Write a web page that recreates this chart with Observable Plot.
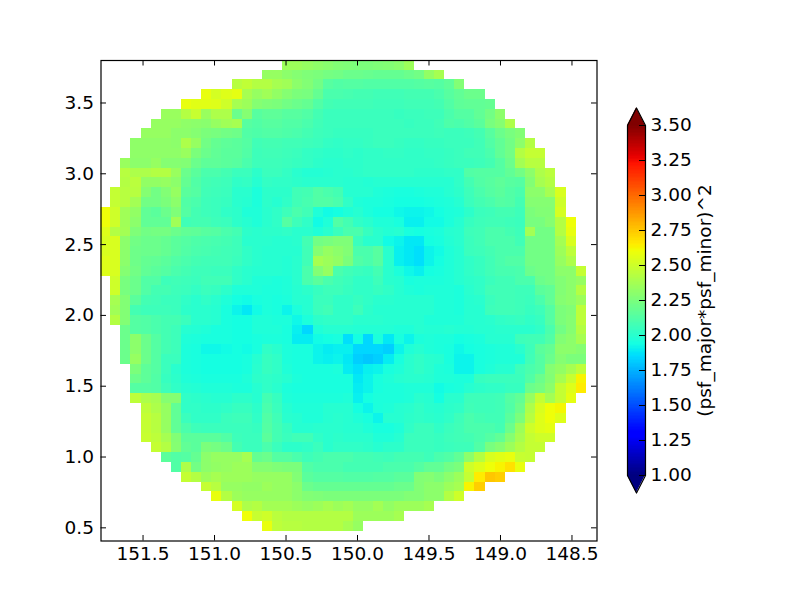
<!DOCTYPE html>
<html>
<head>
<meta charset="utf-8">
<script src="https://cdn.jsdelivr.net/npm/d3@7"></script>
<script src="https://cdn.jsdelivr.net/npm/@observablehq/plot@0.6"></script>
<style>
html,body{margin:0;padding:0;background:#fff}
#chart{position:relative;width:800px;height:600px;overflow:hidden}
#chart svg{position:absolute;top:0;background:transparent}
</style>
</head>
<body>
<div id="chart"></div>
<script>
// Axis ticks
const xTicks = [151.5, 151.0, 150.5, 150.0, 149.5, 149.0, 148.5];
const yTicks = [0.5, 1.0, 1.5, 2.0, 2.5, 3.0, 3.5];
const barTicks = [1.00, 1.25, 1.50, 1.75, 2.00, 2.25, 2.50, 2.75, 3.00, 3.25, 3.50];
const barLabel = "(psf_major*psf_minor)^2";

// Map frame and grid
const xDomain = [151.794, 148.325];
const yDomain = [0.407, 3.8];
const xOrigin = 151.797, xStep = 0.07077;
const yOrigin = 3.802, yStep = 0.06928;

// First column of each row of the 48 x 48 map (top row first)
const rowStart = [18,16,13,10,8,6,5,4,3,3,2,2,2,1,1,0,0,0,0,0,0,0,1,1,1,1,1,2,2,2,2,3,3,3,3,4,4,4,4,5,6,7,8,10,11,13,14,16];

// Values in hundredths, one list per row
const psfRows = [
[235,235,233,231,229,227,226,225,225,226,227,229,235],
[233,233,230,228,226,225,223,222,220,220,219,218,218,218,220,222,232,238],
[243,246,242,242,238,236,230,227,222,214,212,213,213,212,212,212,212,212,213,214,213,216,227],
[258,252,255,257,238,233,236,232,228,225,224,218,210,210,209,208,208,207,207,207,208,208,208,210,214,217,220,220],
[258,256,256,255,250,238,235,228,226,225,222,220,218,212,208,207,207,207,207,206,206,206,207,207,207,208,212,216,217,217,218],
[234,234,242,248,234,240,240,220,228,214,216,216,214,214,212,208,205,205,205,205,205,205,205,204,205,205,206,206,210,213,213,217,222,230],
[233,233,233,231,230,229,233,236,238,214,212,214,214,212,212,210,207,205,205,205,205,205,205,205,205,204,205,205,207,211,210,212,215,224,228,240],
[233,233,233,230,230,228,225,224,222,221,212,211,212,212,211,210,208,206,205,204,204,204,204,205,205,205,205,205,205,206,205,205,206,208,214,220,224,227],
[231,231,231,231,230,240,233,222,218,216,215,213,207,208,208,207,207,206,205,203,202,203,203,204,205,205,204,203,203,204,204,205,205,205,207,212,217,222,230,242],
[231,231,231,231,231,234,225,220,217,215,215,212,206,207,207,206,205,203,202,201,201,202,201,202,202,203,203,202,202,203,203,204,205,207,207,210,217,222,242,247,247],
[234,230,230,233,228,228,227,220,216,216,215,214,210,206,206,206,205,204,203,201,200,200,201,201,202,202,202,202,202,202,202,203,204,205,205,206,208,213,220,237,243,243],
[243,240,240,242,242,234,220,215,210,210,208,205,205,201,205,205,203,200,198,198,199,200,200,201,202,202,202,202,202,201,201,201,202,202,212,213,213,213,217,222,230,240,244],
[242,244,232,232,233,230,218,212,208,207,206,202,203,199,203,202,202,201,200,200,200,200,199,199,198,199,199,199,199,199,199,199,199,202,208,212,214,216,214,213,227,238,242],
[247,243,243,228,222,227,233,215,213,207,206,205,200,200,196,201,201,201,207,208,212,210,208,199,199,199,197,196,195,195,196,197,197,199,201,206,210,213,215,212,210,230,230,238,253],
[247,243,237,222,222,225,230,212,210,206,205,204,200,199,196,201,199,202,207,209,212,212,210,202,197,196,196,195,194,194,194,195,196,197,199,205,208,210,213,212,208,228,228,228,250],
[260,250,236,232,217,215,220,226,213,208,206,205,202,201,197,197,200,202,206,210,207,197,193,194,197,199,196,194,194,192,191,191,192,194,196,197,201,205,206,208,208,206,225,227,227,252],
[260,250,236,230,217,217,217,236,207,208,208,206,205,201,199,197,200,202,213,206,202,193,197,212,208,202,200,197,197,195,190,190,193,193,196,199,204,206,207,207,206,205,224,224,228,242,260],
[255,242,237,226,222,223,223,220,217,216,214,213,210,208,201,200,201,201,202,200,200,197,200,205,210,210,204,200,198,199,195,194,195,196,199,200,206,207,210,210,208,206,237,222,222,242,258],
[253,253,230,222,220,220,218,215,213,211,210,209,208,206,200,200,200,199,199,200,208,222,224,226,226,205,200,200,193,191,188,188,194,195,198,200,205,207,210,210,210,207,222,222,222,237,253],
[253,253,230,221,220,220,218,215,212,210,209,208,207,206,202,200,199,199,199,199,207,228,233,230,227,210,210,214,200,190,188,186,191,193,197,199,205,206,208,210,210,210,222,222,222,235,245],
[255,253,230,221,218,217,215,212,210,208,207,207,207,205,202,200,199,199,198,200,207,238,235,232,225,212,210,214,200,190,188,186,191,194,197,199,202,204,207,210,212,212,222,222,222,233,240],
[255,253,228,222,217,215,213,210,208,206,206,205,205,202,200,199,199,199,198,200,210,227,233,210,207,205,204,208,200,196,192,190,194,195,197,199,202,204,207,209,209,210,220,222,222,230,230,247],
[250,224,220,212,212,206,207,206,205,207,207,207,202,200,197,197,196,197,200,210,215,210,207,205,202,202,206,200,199,195,196,196,196,197,199,201,202,205,207,207,210,210,220,222,227,230,233],
[250,224,220,212,208,208,206,205,203,205,204,201,197,197,197,196,196,197,199,201,204,206,206,204,202,202,204,202,199,197,196,197,197,197,196,200,202,207,207,207,206,206,215,217,227,230,242],
[238,227,215,208,207,205,205,202,200,202,200,197,194,193,195,196,195,196,199,199,205,205,202,202,204,202,200,200,199,199,199,199,197,197,196,199,200,205,207,207,206,205,210,217,228,230,235],
[236,227,208,206,206,206,205,201,200,200,199,195,191,188,193,196,195,191,196,199,205,207,202,202,206,201,199,199,199,199,199,199,197,197,196,199,199,206,207,207,206,204,206,213,225,227,245],
[242,227,213,212,210,208,208,205,200,200,199,195,194,194,197,197,196,196,192,196,201,202,202,202,200,200,200,199,199,199,199,197,197,197,197,199,199,200,202,203,204,202,204,213,225,228,245],
[220,213,212,210,208,206,199,198,197,195,195,194,194,197,197,197,195,190,184,197,199,199,199,198,198,198,198,197,197,199,198,198,199,198,198,199,199,200,200,200,200,202,210,222,228,242],
[220,230,220,213,208,206,197,196,195,195,195,194,194,195,196,196,195,189,189,193,194,195,186,194,184,196,188,195,191,196,197,196,196,194,195,196,199,199,199,206,207,207,212,227,230,238],
[220,230,220,213,208,206,196,195,192,192,193,194,193,195,202,200,196,195,195,191,189,190,190,184,184,184,182,191,197,199,197,196,195,192,194,195,196,197,197,200,206,215,218,230,230,228],
[220,233,220,213,205,205,196,195,194,194,194,194,195,199,204,202,196,195,195,191,190,191,188,182,180,182,189,195,200,202,200,199,195,191,191,195,196,197,197,197,207,213,220,228,225,225],
[225,216,213,205,200,196,195,194,194,194,194,195,200,204,202,197,195,195,195,195,196,189,186,190,191,195,197,200,202,200,197,196,191,191,195,197,199,199,206,210,213,228,232,238,245],
[220,216,212,204,201,197,196,195,195,195,195,197,201,202,201,199,196,195,195,195,195,195,188,191,195,197,199,200,200,199,197,197,196,196,204,205,205,205,205,212,220,227,238,248,263],
[213,213,212,206,202,199,198,197,197,197,196,196,199,202,200,196,195,195,195,195,195,195,189,191,195,196,196,197,197,197,193,195,196,199,201,202,202,204,204,220,223,230,247,255,265],
[245,240,238,228,228,202,201,200,199,199,201,201,199,208,204,197,196,196,196,196,196,197,190,194,196,196,196,197,200,199,194,200,200,206,206,206,207,213,217,233,247,237,247,257],
[245,240,233,217,202,202,201,201,202,204,204,201,210,205,199,197,197,197,199,199,199,194,191,196,197,199,200,202,200,199,201,202,207,206,206,207,212,220,240,253,260,262],
[247,243,233,217,205,202,202,202,205,206,206,202,212,207,200,199,197,197,199,200,199,197,195,191,199,199,201,202,201,200,202,206,210,208,207,207,215,225,243,255,260,255],
[247,243,233,217,210,206,205,205,205,205,205,204,213,208,204,199,199,200,200,200,199,199,197,195,195,197,202,205,205,202,205,207,210,210,210,208,220,235,250,255,257],
[248,245,238,227,215,215,215,215,212,206,205,205,215,208,205,207,207,202,200,201,200,200,200,197,197,199,205,205,205,204,206,207,208,210,213,217,228,238,247,250,250],
[247,242,228,217,215,225,223,220,208,205,205,210,205,201,201,202,205,200,202,202,202,201,199,201,201,205,205,205,204,205,206,206,212,224,228,235,242,247,247],
[215,212,213,218,230,233,233,233,238,218,220,213,213,210,206,208,210,210,210,208,208,207,206,208,208,208,206,210,212,217,230,242,253,256,258,248,247],
[212,240,222,230,232,233,235,235,228,228,226,225,225,212,210,210,210,208,208,208,208,210,210,210,213,217,217,222,225,250,255,260,263,268,258],
[247,242,235,238,235,235,235,233,233,233,233,227,215,213,213,213,212,212,212,213,213,215,215,227,228,225,230,235,247,265,275,273],
[247,243,233,233,232,232,235,233,233,230,220,218,218,218,218,218,218,218,218,220,220,227,230,230,235,238,263,273],
[258,242,235,233,233,233,233,233,230,227,226,225,225,225,225,225,225,225,225,227,227,230,230,242,250],
[252,240,242,237,237,237,235,233,235,238,235,237,233,233,237,232,235,235,235,238],
[260,248,250,244,242,242,242,242,242,242,242,235,235,235,235,238],
[258,245,243,243,242,242,242,242,238,233]
];

const cells = psfRows.flatMap((r, i) => r.map((v, k) => {
  const c = rowStart[i] + k;
  return {
    x1: xOrigin - c * xStep, x2: xOrigin - (c + 1) * xStep,
    y1: yOrigin - i * yStep, y2: yOrigin - (i + 1) * yStep,
    v: v / 100
  };
}));

// The jet colormap, as control points
const jetR = d3.scaleLinear([0, .35, .66, .89, 1], [0, 0, 1, 1, .5]);
const jetG = d3.scaleLinear([0, .125, .375, .64, .91, 1], [0, 0, 1, 1, 0, 0]);
const jetB = d3.scaleLinear([0, .11, .34, .65, 1], [.5, 1, 1, 0, 0]);
const jet = t => d3.rgb(255 * jetR(t), 255 * jetG(t), 255 * jetB(t)).formatHex();
const colorOpts = {type: "linear", domain: [1, 3.5], interpolate: () => jet, clamp: true};

const font = {fontFamily: "'DejaVu Sans', sans-serif", fontSize: "18.5px", color: "#000", background: "transparent"};
const xTick = 5.5 / 143, yTick = 5.5 / 141.6;

const main = Plot.plot({
  width: 800, height: 600,
  marginLeft: 100.5, marginRight: 203.5, marginTop: 60, marginBottom: 59.5,
  style: font,
  x: {domain: xDomain, ticks: xTicks, tickFormat: d => d.toFixed(1), label: null},
  y: {domain: yDomain, ticks: yTicks, tickFormat: d => d.toFixed(1), label: null},
  color: colorOpts,
  marks: [
    Plot.rect(cells, {x1: "x1", x2: "x2", y1: "y1", y2: "y2", fill: "v", clip: true, shapeRendering: "crispEdges"}),
    Plot.axisX(xTicks, {tickSize: 0, tickPadding: 6, tickFormat: d => d.toFixed(1), label: null}),
    Plot.axisY(yTicks, {tickSize: 0, tickPadding: 7, tickFormat: d => d.toFixed(1), label: null}),
    Plot.ruleX(xTicks, {x: d => d, y1: yDomain[0], y2: yDomain[0] + yTick, stroke: "#000", strokeWidth: 1}),
    Plot.ruleX(xTicks, {x: d => d, y1: yDomain[1], y2: yDomain[1] - yTick, stroke: "#000", strokeWidth: 1}),
    Plot.ruleY(yTicks, {y: d => d, x1: xDomain[0], x2: xDomain[0] - xTick, stroke: "#000", strokeWidth: 1}),
    Plot.ruleY(yTicks, {y: d => d, x1: xDomain[1], x2: xDomain[1] + xTick, stroke: "#000", strokeWidth: 1}),
    Plot.frame({stroke: "#000", strokeWidth: 1.2})
  ]
});
main.style.left = "0px";

// Colour bar
const levels = d3.range(256).map(i => 1 + i * 2.5 / 256);
const levelStep = 2.5 / 256;
const extend = 0.125;
const outline = [
  {x: 0, y: 1}, {x: 0.5, y: 1 - extend}, {x: 1, y: 1},
  {x: 1, y: 3.5}, {x: 0.5, y: 3.5 + extend}, {x: 0, y: 3.5}, {x: 0, y: 1}
];
const tipTop = outline.slice(3, 6);
const tipBottom = outline.slice(0, 3);

const bar = Plot.plot({
  width: 173, height: 600,
  marginLeft: 0, marginRight: 155, marginTop: 125, marginBottom: 125,
  style: font,
  x: {domain: [0, 1], axis: null},
  y: {domain: [1, 3.5], label: null},
  color: colorOpts,
  marks: [
    Plot.rect(levels, {x1: 0, x2: 1, y1: d => d, y2: d => d + levelStep, fill: d => d + levelStep / 2, shapeRendering: "crispEdges"}),
    Plot.areaY(tipTop, {x: "x", y1: 3.5, y2: "y", fill: jet(1)}),
    Plot.areaY(tipBottom, {x: "x", y1: 1, y2: "y", fill: jet(0)}),
    Plot.line(outline, {x: "x", y: "y", stroke: "#000", strokeWidth: 1.2}),
    Plot.ruleY(barTicks, {y: d => d, x1: 1 - 6 / 18, x2: 1, stroke: "#000", strokeWidth: 1}),
    Plot.axisY(barTicks, {anchor: "right", tickSize: 0, tickPadding: 5, tickFormat: d => d.toFixed(2), label: null}),
    Plot.text([barLabel], {frameAnchor: "middle", rotate: -90, dx: 69, fontSize: 18.5, fill: "#000"})
  ]
});
bar.style.left = "627px";
bar.style.overflow = "visible";

document.getElementById("chart").append(main, bar);
</script>
</body>
</html>
